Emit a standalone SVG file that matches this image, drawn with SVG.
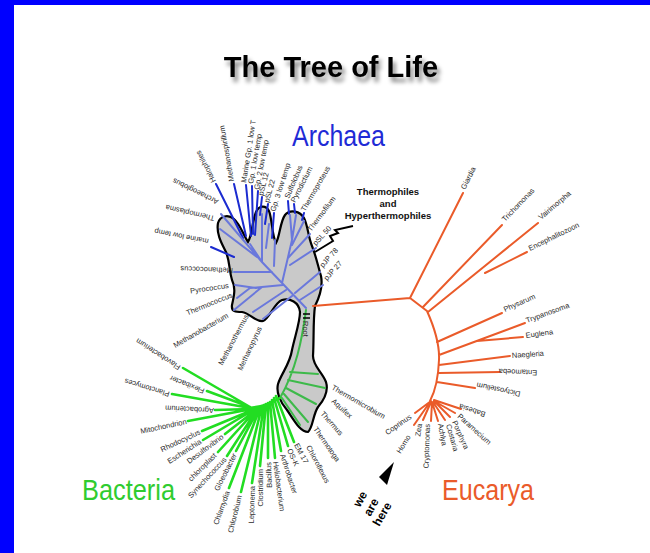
<svg xmlns="http://www.w3.org/2000/svg" width="650" height="553" viewBox="0 0 650 553">
<defs>
<filter id="sh" x="-10%" y="-40%" width="130%" height="200%">
<feGaussianBlur in="SourceAlpha" stdDeviation="2.2"/>
<feOffset dx="3" dy="5" result="b"/>
<feFlood flood-color="#000" flood-opacity="0.45"/>
<feComposite in2="b" operator="in" result="s"/>
<feMerge><feMergeNode in="s"/><feMergeNode in="SourceGraphic"/></feMerge>
</filter>
</defs>
<style>
.lb{font-family:"Liberation Sans",Arial,sans-serif;font-size:7.5px;fill:#2a2a2a}
.e{text-anchor:end}
.ab{stroke:#1b2bd0;stroke-width:2;fill:none;stroke-linecap:round}
.ai{stroke:#6a78dc;stroke-width:2;fill:none;stroke-linecap:round}
.bo{stroke:#22dd22;stroke-width:2.6;fill:none;stroke-linecap:round}
.bi{stroke:#3dba4a;stroke-width:2;fill:none;stroke-linecap:round}
.eu{stroke:#ea5b2a;stroke-width:2;fill:none;stroke-linecap:round;stroke-linejoin:round}
.dom{font-family:"Liberation Sans",Arial,sans-serif;font-size:30px}
.wh{font-family:"Liberation Sans",Arial,sans-serif;font-size:12px;font-weight:bold;fill:#000;text-anchor:middle}
</style>
<rect width="650" height="553" fill="#fff"/>
<rect width="650" height="5" fill="#0000ff"/>
<rect width="14" height="553" fill="#0000ff"/>

<g id="title">
<text x="331" y="77" text-anchor="middle" font-family="Liberation Sans, Arial, sans-serif" font-weight="bold" font-size="29" fill="#000" filter="url(#sh)">The Tree of Life</text>
</g>

<g id="hyperthermophile-zone">
<path d="M218,223 C220,216 228,214 234,219 C240,224 244,236 248,242 C252,236 252,222 256,212 C259,205 266,205 269,211 C272,218 272,236 276,243 C280,236 280,222 285,215 C290,209 300,211 304,218 C308,226 308,236 312,246 C316,256 318,266 321,276 C323,286 320,296 315,306 C313,320 314,340 313,356 C313,366 322,372 326,382 C329,392 324,400 318,407 C313,414 313,428 308,432 C300,432 294,420 287,410 C280,402 276,392 278,384 C281,374 290,364 292,350 C295,336 300,322 300,312 C299,302 290,298 282,300 C274,303 270,318 263,321 C255,322 250,313 242,312 C236,312 231,312 232,305 C234,296 236,288 232,280 C229,270 230,262 226,252 C222,244 216,234 218,223 Z" fill="#c9c9c9" stroke="#000" stroke-width="2.2"/>
</g>

<g id="connectors">
<path class="ab" d="M216,184 L243,238 M234,184 L246,236 M246,185 L251,236 M252,186 L253,234 M258,191 L255,235 M262,197 L260,215 M268,204 L265,224 M274,213 L272,238 M211,247 L234,257 M288,201 L289,214 M294,204 L295,213 M304,213 L302,220"/>
<path class="ai" d="M306,308 L282,283 L262,262 L250,244 M262,262 L221,214 M257,257 L220,229 M272,272 L234,272 M283,285 L250,288 M256,288 L235,285 M250,288 L237,298 M262,287 L234,310 M286,290 L253,312 M292,296 L263,319 M282,283 L292,240 L290,215 M292,240 L296,215 M292,245 L304,221 M288,258 L310,234 M290,265 L316,248 M295,293 L320,272 M300,300 L323,285 M262,262 L262,214 M266,248 L269,224 M274,266 L275,240"/>
<path class="bi" d="M306,310 C302,340 296,370 280,398 M288,380 L325,388 M290,372 L318,374 M286,388 L316,404 M284,394 L308,422 M282,398 L300,425"/>
<path class="bo" d="M280,398 Q268,406 249,408 M250,407 L183,368 M250,407 L207,391 M250,408 L172,394 M252,409 L215,410 M252,409 L188,421 M255,409 L202,431 M255,409 L203,440 M257,409 L225,434 M257,409 L218,452 M258,408 L227,456 M259,408 L236,451 M260,408 L229,488 M262,406 L241,492 M264,405 L252,483 M266,404 L260,466 M268,403 L268,458 M270,402 L275,458 M272,400 L281,451 M274,398 L288,446 M276,396 L294,442"/>
<path class="eu" d="M313,306 L410,298 L463,193 M410,298 L427,311 Q440,340 439,360 Q438,386 430,401 M423,307 L502,225 M428,312 L538,223 M485,273 L527,252 M437,342 L502,313 M439,355 L525,323 M477,341 L523,337 M439,365 L510,356 M439,373 L500,372 M437,382 L475,388 M431,401 L415,413 M430,402 L414,425 M431,402 L423,420 M432,402 L431,421 M432,402 L438,421 M433,402 L445,420 M434,401 L450,417 M434,401 L455,413 M434,400 L461,409"/>
<path d="M315,252 L333,241 L330,236 L338,233 L335,230 L353,226" fill="none" stroke="#000" stroke-width="2"/>
<path d="M303,314 L310,314 M303,318 L310,318" stroke="#000" stroke-width="1.5"/>
</g>

<g id="archaea">
<text x="292" y="146" class="dom" fill="#1f2bd6" textLength="93" lengthAdjust="spacingAndGlyphs">Archaea</text>
<text class="lb" transform="translate(216,181) rotate(-117)">Halophiles</text>
<text class="lb" transform="translate(234,181) rotate(-100)">Methanospirillum</text>
<text class="lb" transform="translate(246,183) rotate(-81)">Marine Gp. 1 low T</text>
<text class="lb" transform="translate(253,184) rotate(-80)">Gp. 1 low temp</text>
<text class="lb" transform="translate(259,190) rotate(-79)">Gp. 2 low temp</text>
<text class="lb" transform="translate(263,196) rotate(-76)">pSL 12</text>
<text class="lb" transform="translate(269,203) rotate(-75)">pSL 22</text>
<text class="lb" transform="translate(275,212) rotate(-72)">Gp. 3 low temp</text>
<text class="lb" transform="translate(289,199) rotate(-67)">Sulfolobus</text>
<text class="lb" transform="translate(295,203) rotate(-63)">Pyrodictium</text>
<text class="lb" transform="translate(305,212) rotate(-60)">Thermoproteus</text>
<text class="lb" transform="translate(311,232) rotate(-53)">Thermofilum</text>
<text class="lb" transform="translate(316,246) rotate(-48)">pSL 50</text>
<text class="lb" transform="translate(323,268) rotate(-48)">pJP 78</text>
<text class="lb" transform="translate(327,281) rotate(-48)">pJP 27</text>
<text class="lb" transform="translate(219,200) rotate(206)">Archaeoglobus</text>
<text class="lb" transform="translate(215,216) rotate(193)">Thermoplasma</text>
<text class="lb" transform="translate(209,239) rotate(191)">marine low temp</text>
<text class="lb" transform="translate(233,268) rotate(182)">Methanococcus</text>
<text class="lb e" transform="translate(229,288) rotate(-8)">Pyrococcus</text>
<text class="lb e" transform="translate(233,297) rotate(-22)">Thermococcus</text>
<text class="lb e" transform="translate(229,317) rotate(-30)">Methanobacterium</text>
<text class="lb e" transform="translate(249,316) rotate(-62)">Methanothermus</text>
<text class="lb e" transform="translate(262,328) rotate(-65)">Methanopyrus</text>
<text class="lb" transform="translate(303,321) rotate(90)">Root</text>
</g>

<g id="thermophiles-note">
<text font-family="Liberation Sans, Arial, sans-serif" font-weight="bold" font-size="9.5" fill="#111" text-anchor="middle"><tspan x="388" y="195">Thermophiles</tspan><tspan x="388" y="207">and</tspan><tspan x="388" y="219">Hyperthermophiles</tspan></text>
</g>

<g id="bacteria">
<text x="82" y="500" class="dom" fill="#2fcc2f" textLength="93" lengthAdjust="spacingAndGlyphs">Bacteria</text>
<text class="lb" transform="translate(181,366) rotate(213)">Flavobacterium</text>
<text class="lb" transform="translate(205,389) rotate(202)">Flexibacter</text>
<text class="lb" transform="translate(170,392) rotate(197)">Planctomyces</text>
<text class="lb" transform="translate(214,408) rotate(183)">Agrobacterium</text>
<text class="lb e" transform="translate(187,424) rotate(-12)">Mitochondrion</text>
<text class="lb e" transform="translate(201,434) rotate(-25)">Rhodocyclus</text>
<text class="lb e" transform="translate(202,443) rotate(-33)">Escherichia</text>
<text class="lb e" transform="translate(224,438) rotate(-37)">Desulfovibrio</text>
<text class="lb e" transform="translate(217,456) rotate(-45)">chloroplast</text>
<text class="lb e" transform="translate(227,460) rotate(-47)">Synechococcus</text>
<text class="lb e" transform="translate(237,455) rotate(-63)">Gloeobacter</text>
<text class="lb e" transform="translate(230,492) rotate(-70)">Chlamydia</text>
<text class="lb e" transform="translate(242,496) rotate(-76)">Chlorobium</text>
<text class="lb e" transform="translate(255,486) rotate(-88)">Leptonema</text>
<text class="lb e" transform="translate(263,469) rotate(-90)">Clostridium</text>
<text class="lb e" transform="translate(271,462) rotate(-92)">Bacillus</text>
<text class="lb" transform="translate(273,462) rotate(82)">Heliobacterium</text>
<text class="lb" transform="translate(280,455) rotate(72)">Arthrobacter</text>
<text class="lb" transform="translate(287,450) rotate(66)">OS-K</text>
<text class="lb" transform="translate(294,445) rotate(62)">EM 17</text>
<text class="lb" transform="translate(306,447) rotate(62)">Chloroflexus</text>
<text class="lb" transform="translate(313,429) rotate(55)">Thermotoga</text>
<text class="lb" transform="translate(320,414) rotate(48)">Thermus</text>
<text class="lb" transform="translate(331,402) rotate(42)">Aquifex</text>
<text class="lb" transform="translate(331,389) rotate(30)">Thermomicrobium</text>
</g>

<g id="eucarya">
<text x="442" y="500" class="dom" fill="#ea5b2a" textLength="92" lengthAdjust="spacingAndGlyphs">Eucarya</text>
<text class="lb" transform="translate(465,190) rotate(-63)">Giardia</text>
<text class="lb" transform="translate(505,222) rotate(-46)">Trichomonas</text>
<text class="lb" transform="translate(541,220) rotate(-40)">Vairimorpha</text>
<text class="lb" transform="translate(530,251) rotate(-26)">Encephalitozoon</text>
<text class="lb" transform="translate(505,312) rotate(-24)">Physarum</text>
<text class="lb" transform="translate(527,323) rotate(-20)">Trypanosoma</text>
<text class="lb" transform="translate(526,338) rotate(-8)">Euglena</text>
<text class="lb" transform="translate(512,358) rotate(-4)">Naegleria</text>
<text class="lb" text-anchor="middle" transform="translate(518,369.5) rotate(182)">Entamoeba</text>
<text class="lb" text-anchor="middle" transform="translate(499,387) rotate(192)">Dictyostelium</text>
<text class="lb" text-anchor="middle" transform="translate(473,408) rotate(198)">Babesia</text>
<text class="lb" transform="translate(457,417) rotate(42)">Paramecium</text>
<text class="lb" transform="translate(452,422) rotate(66)">Porphyra</text>
<text class="lb" transform="translate(446,425) rotate(74)">Costaria</text>
<text class="lb" transform="translate(438,424) rotate(80)">Achlya</text>
<text class="lb e" transform="translate(430,424) rotate(-88)">Cryptomonas</text>
<text class="lb e" transform="translate(422,424) rotate(-82)">Zea</text>
<text class="lb e" transform="translate(412,418) rotate(-35)">Coprinus</text>
<text class="lb e" transform="translate(411,437) rotate(-58)">Homo</text>
</g>

<g id="we-are-here">
<polygon points="394,462 379,477 387,485" fill="#000"/>
<text class="wh" dy="0.35em" transform="translate(360,499) rotate(-60)">we</text>
<text class="wh" dy="0.35em" transform="translate(371,507) rotate(-60)">are</text>
<text class="wh" dy="0.35em" transform="translate(382,514) rotate(-60)">here</text>
</g>
</svg>
